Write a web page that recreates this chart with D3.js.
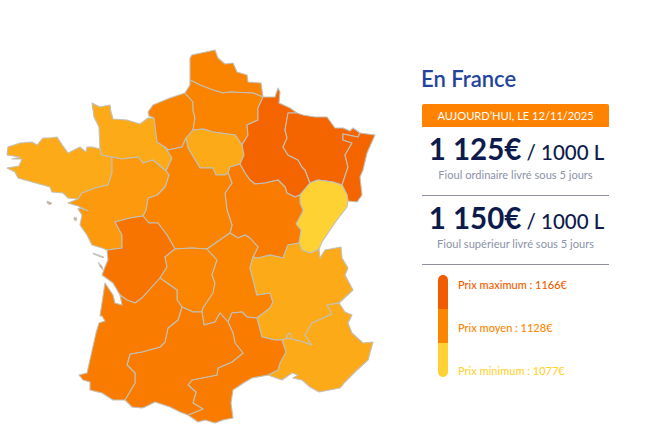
<!DOCTYPE html>
<html>
<head>
  <meta charset="UTF-8" />
  <title>Prix du fioul en France</title>
  <script src="https://d3js.org/d3.v7.min.js"></script>
  <style>
    html, body { margin: 0; padding: 0; background: #fff; }
    svg { display: block; }
    text { font-family: Lato, sans-serif; }
    .region { stroke: #c2c0b8; stroke-width: 1.1px; stroke-linejoin: round; }
    .island { fill: #c9ae92; stroke: #c8c8c2; stroke-width: 0.8px; }
  </style>
</head>
<body>
  <svg id="map" width="649" height="445"></svg>
  <script>
    // Outline of the regions. Shared borders are kept once.
    const borders = {
      bretCoast: [[100,149],[92,147],[87,147],[86,152],[80,147],[74,150],[68,153],[63,146],[57,137],[50,138],[43,138],[37,145],[32,142],[20,143],[8,147],[7,155],[20,157],[12,159],[22,159],[19,166],[7,168],[15,172],[18,178],[32,182],[43,185],[50,187],[52,192],[63,193],[68,198],[78,199]],
      bretPdl: [[78,199],[82,193],[95,188],[108,185],[112,173],[112,157]],
      bretNorm: [[112,157],[102,155],[100,149]],
      normPdl: [[112,157],[122,159],[138,157],[143,163],[153,160],[166,171]],
      normCoast: [[100,149],[99,127],[94,117],[92,103],[100,107],[110,105],[111,112],[113,119],[127,120],[140,124],[148,118],[154,118]],
      normHn: [[154,118],[157,142],[165,147]],
      normCentre: [[165,147],[172,158],[166,171]],
      hnCoast: [[154,118],[149,116],[148,112],[153,105],[170,98],[185,93]],
      picCoast: [[185,93],[190,85],[190,80]],
      picHn: [[185,93],[193,102],[193,110],[195,118],[193,130]],
      hnIdf: [[193,130],[186,138]],
      hnCentre: [[186,138],[182,147],[168,150],[165,147]],
      idfCentre: [[186,138],[188,148],[200,168],[213,168],[216,175],[225,175],[228,173]],
      idfBourg: [[228,173],[230,167],[240,164]],
      idfChamp: [[240,164],[244,155],[242,145]],
      idfPic: [[242,145],[235,135],[213,132],[203,129],[193,130]],
      nordPic: [[190,80],[200,85],[213,90],[223,93],[230,92],[253,93],[263,97]],
      nordCoast: [[190,80],[190,58],[192,55],[215,50],[218,58],[225,64],[233,63],[237,72],[247,75],[248,82],[261,83],[263,97]],
      picChamp: [[242,145],[248,135],[247,125],[258,120],[258,108],[263,97]],
      champFrontier: [[263,97],[275,97],[278,88],[280,92],[279,103],[290,108],[297,113]],
      champLor: [[297,113],[288,113],[285,130],[287,138],[283,147],[288,155],[298,160],[302,167],[305,170],[310,183]],
      champFc: [[310,183],[300,195]],
      champBourg: [[300,195],[295,197],[287,193],[285,187],[278,180],[265,183],[255,184],[250,180],[245,173],[240,164]],
      lorFrontier: [[297,113],[303,115],[315,117],[327,117],[335,128],[343,128],[350,131],[353,128],[360,133]],
      lorAls: [[360,133],[358,137],[343,134],[343,140],[352,143],[345,155],[348,167],[342,185]],
      lorFc: [[310,183],[318,180],[333,182],[342,185]],
      alsFrontier: [[360,133],[375,135],[367,153],[363,170],[360,177],[362,195],[357,202],[348,201]],
      alsFc: [[342,185],[347,195],[348,201]],
      fcFrontier: [[348,201],[347,207],[337,220],[330,230],[322,242],[319,249]],
      fcRa: [[319,249],[311,253],[307,252],[302,250],[299,243]],
      fcBourg: [[300,195],[300,203],[303,210],[302,213],[296,224],[301,230],[299,243]],
      bourgRa: [[299,243],[288,245],[283,258],[270,255],[258,258],[253,257]],
      bourgAuv: [[253,257],[258,247],[250,238],[245,235],[238,238],[230,233]],
      bourgCentre: [[230,233],[232,225],[227,210],[225,193],[232,183],[228,173]],
      centreAuv: [[230,233],[217,242],[207,249]],
      centreLim: [[207,249],[192,248],[175,249]],
      centrePoitou: [[175,249],[167,235],[158,223],[149,223],[143,216]],
      centrePdl: [[143,216],[146,210],[148,198],[157,195],[165,187],[169,175],[166,171]],
      poitouPdl: [[143,216],[130,218],[115,222],[122,235],[122,248],[107,250]],
      pdlCoast: [[107,250],[102,248],[92,245],[87,235],[80,225],[82,215],[78,209],[80,208],[88,211],[78,206],[68,203],[78,199]],
      poitouCoast: [[107,250],[108,260],[105,267],[102,275],[113,283],[120,295]],
      poitouAq: [[120,295],[127,300],[135,303],[142,298],[160,278]],
      poitouLim: [[160,278],[167,267],[165,257],[175,249]],
      limAq: [[160,278],[167,283],[177,290],[177,300],[182,307]],
      limMidi: [[182,307],[193,312],[202,312]],
      limAuv: [[202,312],[203,308],[213,293],[215,283],[212,275],[217,260],[207,249]],
      auvMidi: [[202,312],[204,325],[215,322],[220,313],[228,322]],
      auvLang: [[228,322],[232,313],[242,312],[247,317],[257,318]],
      auvRa: [[257,318],[270,308],[273,302],[270,293],[257,295],[250,268],[253,257]],
      langRa: [[257,318],[262,337],[275,340],[282,340]],
      langPaca: [[282,340],[286,352],[280,363],[278,370],[268,375]],
      raPaca: [[282,340],[288,338],[303,342],[312,345],[305,335],[312,323],[332,314],[327,305],[339,303]],
      raFrontier: [[339,303],[353,290],[345,275],[348,268],[342,258],[341,247],[325,250],[320,258],[319,249]],
      pacaCoast: [[339,303],[345,312],[352,315],[348,323],[352,333],[363,343],[373,342],[368,360],[357,370],[345,382],[340,388],[319,392],[310,387],[302,380],[293,378],[298,375],[292,373],[282,380],[268,375]],
      langCoast: [[268,375],[252,378],[245,382],[233,390],[231,403],[233,418],[223,420],[215,423],[205,420],[198,422],[188,415]],
      langMidi: [[188,415],[203,409],[193,403],[196,392],[188,385],[192,380],[217,375],[218,368],[232,362],[243,353],[235,343],[233,333],[228,322]],
      midiPyr: [[188,415],[180,412],[170,407],[155,402],[145,407],[142,408],[132,407],[125,400]],
      midiAq: [[125,400],[135,383],[135,373],[127,365],[130,354],[142,352],[160,347],[165,342],[168,328],[178,320],[182,307]],
      aqCoast: [[125,400],[113,400],[102,393],[90,390],[90,382],[83,380],[79,375],[87,373],[96,333],[99,323],[105,321],[102,316],[100,316],[105,283],[113,295],[115,303],[122,305],[120,295]]
    };

    const regionNames = ["Bretagne","Basse-Normandie","Haute-Normandie","Nord-Pas-de-Calais","Picardie","Île-de-France","Champagne-Ardenne","Lorraine","Alsace","Franche-Comté","Bourgogne","Centre","Pays de la Loire","Poitou-Charentes","Limousin","Auvergne","Rhône-Alpes","PACA","Languedoc-Roussillon","Midi-Pyrénées","Aquitaine"];
    // estimated from the colour of each region
    const regionPrices = [1104,1104,1131,1131,1131,1104,1158,1158,1158,1077,1137,1131,1115,1144,1130,1131,1104,1104,1137,1137,1137];
    const regionBorders = [
      ["bretCoast","bretPdl","bretNorm"],
      ["normCoast","normHn","normCentre","normPdl","bretNorm"],
      ["hnCoast","picHn","hnIdf","hnCentre","normHn"],
      ["nordCoast","nordPic"],
      ["picCoast","nordPic","picChamp","idfPic","picHn"],
      ["idfPic","hnIdf","idfCentre","idfBourg","idfChamp"],
      ["champFrontier","champLor","champFc","champBourg","idfChamp","picChamp"],
      ["lorFrontier","lorAls","lorFc","champLor"],
      ["alsFrontier","alsFc","lorAls"],
      ["alsFc","fcFrontier","fcRa","fcBourg","champFc","lorFc"],
      ["champBourg","idfBourg","bourgCentre","bourgAuv","bourgRa","fcBourg"],
      ["hnCentre","normCentre","centrePdl","centrePoitou","centreLim","centreAuv","bourgCentre","idfCentre"],
      ["normPdl","centrePdl","poitouPdl","pdlCoast","bretPdl"],
      ["poitouPdl","poitouCoast","poitouAq","poitouLim","centrePoitou"],
      ["centreLim","limAuv","limMidi","limAq","poitouLim"],
      ["centreAuv","bourgAuv","auvRa","auvLang","auvMidi","limAuv"],
      ["bourgRa","auvRa","langRa","raPaca","raFrontier","fcRa"],
      ["raPaca","pacaCoast","langPaca"],
      ["langRa","langPaca","langCoast","langMidi","auvLang"],
      ["auvMidi","limMidi","midiAq","midiPyr","langMidi"],
      ["limAq","midiAq","aqCoast","poitouAq"]
    ];
    const islands = [
      [[47,201],[52,203],[50,205],[47,203]],
      [[74,217],[77,218],[76,221],[74,220]],
      [[93,253],[104,257],[103,258],[93,254]],
      [[98,262],[102,266],[103,270],[100,267]]
    ];
    // small enclave on the Rhône-Alpes / PACA border
    const enclave = [[287,335],[290,333],[292,336],[290,339],[287,338]];

    const offerPrices = ["1 125€","1 150€"];
    const offerLabels = ["Fioul ordinaire livré sous 5 jours","Fioul supérieur livré sous 5 jours"];
    const legendLabels = ["Prix maximum","Prix moyen","Prix minimum"];
    const legendValues = [1166,1128,1077];
    const legendColors = ["#f25c00","#fb8600","#ffd233"];

    const svg = d3.select("#map");

    const color = d3.scaleLinear()
      .domain(legendValues.slice().reverse())
      .range(legendColors.slice().reverse());

    // chain the named borders into one closed ring
    function ring(names) {
      const same = (a, b) => a[0] === b[0] && a[1] === b[1];
      let first = borders[names[0]].slice();
      const next = borders[names[1]];
      if (!same(first[first.length - 1], next[0]) && !same(first[first.length - 1], next[next.length - 1])) first.reverse();
      const pts = first;
      names.slice(1).forEach(n => {
        let b = borders[n].slice();
        if (!same(pts[pts.length - 1], b[0])) b.reverse();
        if (!same(pts[pts.length - 1], b[0])) console.error("broken ring at " + n);
        pts.push(...b.slice(1));
      });
      return pts;
    }

    const features = regionNames.map((name, i) => ({
      type: "Feature",
      properties: { name, price: regionPrices[i] },
      geometry: { type: "Polygon", coordinates: [ring(regionBorders[i])] }
    }));

    const path = d3.geoPath(d3.geoIdentity());

    svg.append("g").selectAll("path.region")
      .data(features)
      .join("path")
      .attr("class", "region")
      .attr("d", path)
      .attr("fill", d => color(d.properties.price));

    svg.append("path")
      .attr("class", "region")
      .attr("d", path({ type: "Polygon", coordinates: [enclave.concat([enclave[0]])] }))
      .attr("fill", color(1104));

    svg.append("g").selectAll("path.island")
      .data(islands)
      .join("path")
      .attr("class", "island")
      .attr("d", d => path({ type: "Polygon", coordinates: [d.concat([d[0]])] }));

    // right panel
    const panelX = 422, panelW = 187, panelMid = panelX + panelW / 2;

    svg.append("text")
      .attr("x", panelX - 1).attr("y", 87)
      .attr("font-size", 22).attr("font-weight", 600)
      .attr("fill", "#24449c")
      .text("En France");

    svg.append("path")
      .attr("d", `M${panelX},127V106a2,2 0 0 1 2,-2H${panelX + panelW - 2}a2,2 0 0 1 2,2V127Z`)
      .attr("fill", "#ff8200");
    svg.append("text")
      .attr("x", panelMid).attr("y", 120)
      .attr("text-anchor", "middle")
      .attr("font-size", 11.1).attr("fill", "#fff")
      .text("AUJOURD’HUI, LE 12/11/2025");

    const offerY = d3.scalePoint().domain(offerPrices).range([160, 229]);

    offerPrices.forEach((p, i) => {
      const y = offerY(p);
      const t = svg.append("text")
        .attr("x", panelMid + 1).attr("y", y)
        .attr("text-anchor", "middle")
        .attr("fill", "#0d1a4c");
      t.append("tspan").attr("font-size", 29.5).attr("font-weight", 700).text(p);
      t.append("tspan").attr("font-size", 20.5).attr("font-weight", 500).text(" / 1000 L");
      svg.append("text")
        .attr("x", panelMid).attr("y", y + 19)
        .attr("text-anchor", "middle")
        .attr("font-size", 11.1).attr("fill", "#8b92a6")
        .text(offerLabels[i]);
      svg.append("line")
        .attr("x1", panelX).attr("x2", panelX + panelW)
        .attr("y1", y + 35.5).attr("y2", y + 35.5)
        .attr("stroke", "#8c8e9e");
    });

    // legend bar, three equal bands clipped to a rounded shape
    const bandY = d3.scaleBand().domain(legendLabels).range([275, 377]);
    svg.append("clipPath").attr("id", "bar-clip")
      .append("rect")
      .attr("x", 438).attr("y", 275)
      .attr("width", 10).attr("height", 102).attr("rx", 5);
    svg.append("g").attr("clip-path", "url(#bar-clip)")
      .selectAll("rect")
      .data(legendLabels)
      .join("rect")
      .attr("x", 438).attr("width", 10)
      .attr("y", d => bandY(d)).attr("height", bandY.bandwidth())
      .attr("fill", (d, i) => legendColors[i]);

    const labelY = d3.scalePoint().domain(legendLabels).range([289, 375]);
    svg.append("g").selectAll("text")
      .data(legendLabels)
      .join("text")
      .attr("x", 458).attr("y", d => labelY(d))
      .attr("font-size", 11).attr("font-weight", 500)
      .attr("fill", (d, i) => legendColors[i])
      .text((d, i) => `${d} : ${legendValues[i]}€`);
  </script>
</body>
</html>
